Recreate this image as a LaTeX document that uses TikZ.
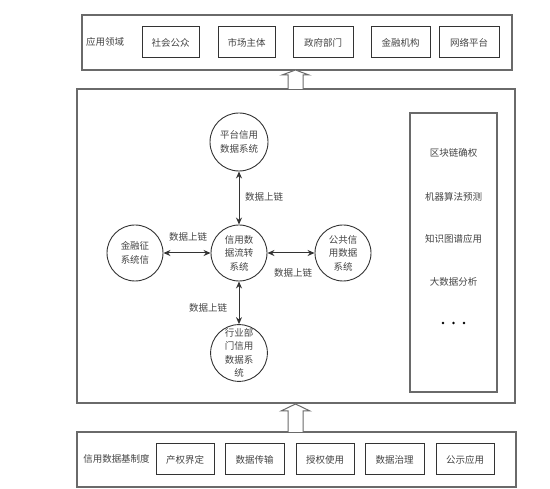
\documentclass[tikz,border=0pt]{standalone}
\usepackage{fontspec}
\newfontfamily\cjk{Noto Sans CJK SC}
\usetikzlibrary{arrows.meta}
\definecolor{linegray}{HTML}{6A6A6A}
\definecolor{boxline}{HTML}{333333}
\definecolor{txt}{HTML}{444444}
\begin{document}
\begin{tikzpicture}[x=1pt,y=-1pt,
  font=\cjk\fontsize{9.5}{13.5}\selectfont,
  outer/.style={draw=linegray,line width=1.2pt,inner sep=0pt},
  itembox/.style={draw=boxline,line width=1pt,minimum height=31pt,inner sep=0pt,text=txt},
  circ/.style={circle,draw=boxline,line width=0.9pt,minimum size=56pt,inner sep=0pt,align=center,text=txt},
  link/.style={draw=boxline,line width=1pt,{Stealth[length=7pt,width=6pt]}-{Stealth[length=7pt,width=6pt]}},
  lbl/.style={text=txt,inner sep=0pt},
  hollow/.style={draw=linegray,line width=1pt,fill=white}
]
\useasboundingbox (0,0) rectangle (550,489);

% outer frames
\node[outer,minimum width=430pt,minimum height=55pt] (app) at (297,42.5) {};
\node[outer,minimum width=438pt,minimum height=314pt] (mid) at (296,246) {};
\node[outer,minimum width=439pt,minimum height=55pt] (base) at (296.5,459.5) {};

% hollow arrows
\draw[hollow] (288,89) -- (288,75) -- (282,75) -- (295.5,70) -- (309,75) -- (303,75) -- (303,89);
\draw[hollow] (288,432) -- (288,411) -- (281,411) -- (295.5,404) -- (310,411) -- (303,411) -- (303,432);

% top row
\node[lbl] (applbl) at (105,42) {应用领域};
\node[itembox,minimum width=57pt] (a1) at (170.5,42.5) {社会公众};
\node[itembox,minimum width=57pt] (a2) at (246.5,42.5) {市场主体};
\node[itembox,minimum width=60pt] (a3) at (323,42.5) {政府部门};
\node[itembox,minimum width=59pt] (a4) at (400.5,42.5) {金融机构};
\node[itembox,minimum width=60pt] (a5) at (469,42.5) {网络平台};

% bottom row
\node[lbl] (baselbl) at (116.5,459) {信用数据基制度};
\node[itembox,minimum width=58pt] (b1) at (185,459.5) {产权界定};
\node[itembox,minimum width=59pt] (b2) at (254.5,459.5) {数据传输};
\node[itembox,minimum width=58pt] (b3) at (325,459.5) {授权使用};
\node[itembox,minimum width=59pt] (b4) at (394.5,459.5) {数据治理};
\node[itembox,minimum width=58pt] (b5) at (465,459.5) {公示应用};

% right panel
\node[draw=linegray,line width=1.2pt,minimum width=87pt,minimum height=279pt,inner sep=0pt] (panel) at (453.5,252.5) {};
\node[lbl] (p1) at (453.5,153) {区块链确权};
\node[lbl] (p2) at (453.5,197) {机器算法预测};
\node[lbl] (p3) at (453.5,239) {知识图谱应用};
\node[lbl] (p4) at (453.5,282) {大数据分析};
\fill[black] (443,323) circle (1.3pt) (453.5,323) circle (1.3pt) (464,323) circle (1.3pt);

% circles
\node[circ,minimum size=58pt] (top) at (239,142) {平台信用\\数据系统};
\node[circ] (center) at (239,253) {信用数\\据流转\\系统};
\node[circ] (left) at (135,253) {金融征\\系统信};
\node[circ] (right) at (343,253) {公共信\\用数据\\系统};
\node[circ] (bottom) at (239,353) {行业部\\门信用\\数据系\\统};

% links
\draw[link] (top) -- (center);
\draw[link] (left) -- (center);
\draw[link] (center) -- (right);
\draw[link] (center) -- (bottom);

\node[lbl] (l1) at (264,197) {数据上链};
\node[lbl] (l2) at (188,237) {数据上链};
\node[lbl] (l3) at (293,273) {数据上链};
\node[lbl] (l4) at (208,308) {数据上链};
\end{tikzpicture}
\end{document}
